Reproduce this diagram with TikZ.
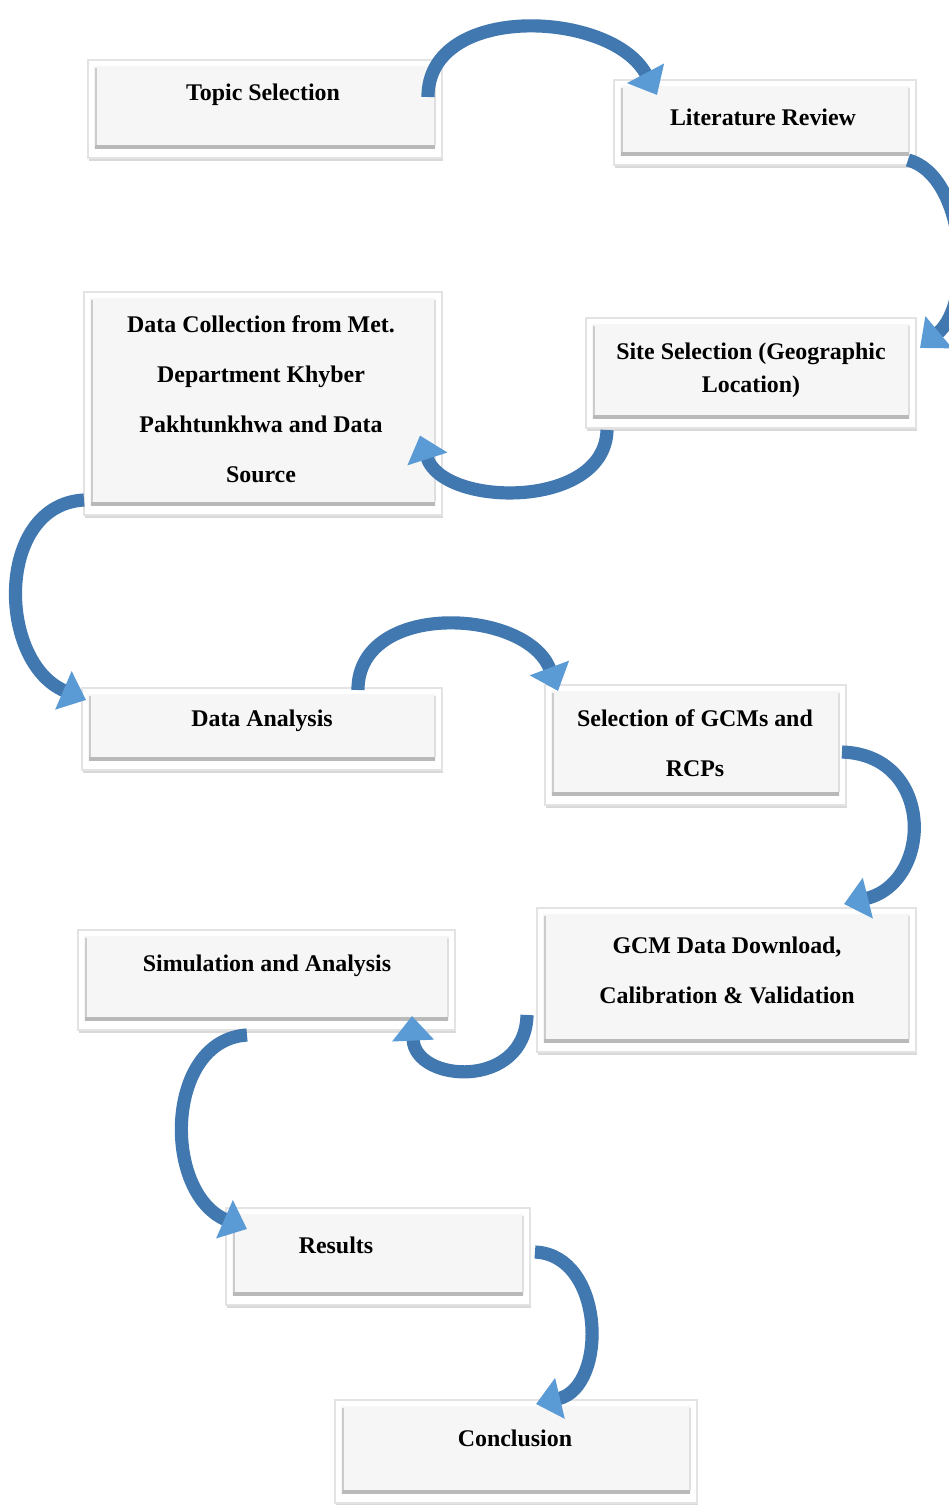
\documentclass[tikz,border=0pt]{standalone}
\usepackage{fontspec}
\setmainfont{Liberation Serif}
\usepackage{xcolor}
\usepackage{tikz}
\usetikzlibrary{positioning, calc, arrows.meta, shadows}

\definecolor{flowblue}{RGB}{66,120,176}
\definecolor{flowlight}{RGB}{91,155,213}

\tikzset{
    stepbox/.style={rectangle, draw=gray!22, line width=0.8pt, fill=white, inner sep=0pt, outer sep=0pt,
        drop shadow={opacity=0.3, shadow xshift=0.8pt, shadow yshift=-1.5pt},
        path picture={
            \fill[gray!7] ($(path picture bounding box.north west)+(6,6)$) rectangle ($(path picture bounding box.south east)+(-6,-9)$);
            \fill[gray!55] ($(path picture bounding box.south west)+(7,-13)$) rectangle ($(path picture bounding box.south east)+(-7,-9)$);
            \draw[gray!40, line width=1.2pt] ($(path picture bounding box.north west)+(8,8)$) -- ($(path picture bounding box.south west)+(8,-13)$);
            \draw[gray!25, line width=1pt] ($(path picture bounding box.north east)+(-7,8)$) -- ($(path picture bounding box.south east)+(-7,-13)$);
        }},
    steptext/.style={font=\fontsize{13.6}{28.4}\selectfont\bfseries, align=center, inner sep=0pt},
    flowarrow/.style={draw=flowblue, line width=7.5pt, -{Triangle[width=23pt, length=14pt, color=flowlight]}}
}

\begin{document}
\begin{tikzpicture}[x=0.02cm, y=-0.02cm]

    \useasboundingbox (0,0) rectangle (949,1505);

    % ==========================================
    % BOXES (left/right zigzag)
    % ==========================================
    \node[stepbox, minimum width=7.08cm, minimum height=1.96cm] (topic)    at (265,109)    {};
    \node[stepbox, minimum width=6.04cm, minimum height=1.70cm] (litrev)   at (765,122.5)  {};
    \node[stepbox, minimum width=6.60cm, minimum height=2.20cm] (site)     at (751,373)    {};
    \node[stepbox, minimum width=7.16cm, minimum height=4.46cm] (datacol)  at (263,403.5)  {};
    \node[stepbox, minimum width=7.20cm, minimum height=1.64cm] (analysis) at (262,729)    {};
    \node[stepbox, minimum width=6.02cm, minimum height=2.40cm] (gcmsel)   at (695.5,745)  {};
    \node[stepbox, minimum width=7.58cm, minimum height=2.88cm] (gcmdl)    at (726.5,980)  {};
    \node[stepbox, minimum width=7.54cm, minimum height=2.00cm] (simul)    at (266.5,980)  {};
    \node[stepbox, minimum width=6.08cm, minimum height=1.94cm] (results)  at (378,1256.5) {};
    \node[stepbox, minimum width=7.24cm, minimum height=2.06cm] (concl)    at (516,1451.5) {};

    % Box texts (sit near the top of each box)
    \node[steptext] (topic-t)    at (263,95)   {Topic Selection};
    \node[steptext] (litrev-t)   at (763,117)  {Literature Review};
    \node[steptext, font=\fontsize{13.6}{18.7}\selectfont\bfseries] (site-t) at (751,370) {Site Selection (Geographic\\Location)};
    \node[steptext] (datacol-t)  at (261,399)  {Data Collection from Met.\\Department Khyber\\Pakhtunkhwa and Data\\Source};
    \node[steptext] (analysis-t) at (262,721)  {Data Analysis};
    \node[steptext] (gcmsel-t)   at (695,743)  {Selection of GCMs and\\RCPs};
    \node[steptext] (gcmdl-t)    at (727,970)  {GCM Data Download,\\Calibration \& Validation};
    \node[steptext] (simul-t)    at (267,966)  {Simulation and Analysis};
    \node[steptext] (results-t)  at (336,1245) {Results};
    \node[steptext] (concl-t)    at (515,1438) {Conclusion};

    % ==========================================
    % CURVED ARROWS
    % ==========================================
    \draw[flowarrow] ($(topic.north east)+(-14,37)$) .. controls +(0,-95) and +(-45,-85) .. ($(litrev.north west)+(43,15)$);
    \draw[flowarrow] ($(litrev.south east)+(-8,-5)$) .. controls +(57,15) and +(55,-46) .. ($(site.north east)+(4,30)$);
    \draw[flowarrow] ($(site.south west)+(21,2)$) .. controls +(-2,80) and +(23,72) .. ($(datacol.east)+(-22,32)$);
    \draw[flowarrow] ($(datacol.south west)+(0,-15)$) .. controls +(-89,5) and +(-89,-38) .. ($(analysis.north west)+(4,12)$);
    \draw[flowarrow] ($(analysis.north east)+(-84,2)$) .. controls +(0,-90) and +(-31,-83) .. ($(gcmsel.north west)+(13,6)$);
    \draw[flowarrow] ($(gcmsel.east)+(-4,7)$) .. controls +(93,3) and +(89,-22) .. ($(gcmdl.north east)+(-72,-4)$);
    \draw[flowarrow] ($(gcmdl.south west)+(-10,-37)$) .. controls +(-2,75) and +(3,67) .. ($(simul.south east)+(-43,-14)$);
    \draw[flowarrow] ($(simul.south)+(-19.5,5)$) .. controls +(-82,5) and +(-85,-37) .. ($(results.north west)+(21,21)$);
    \draw[flowarrow] ($(results.east)+(5,-4.5)$) .. controls +(70,3) and +(72,-17) .. ($(concl.north)+(20,4)$);

\end{tikzpicture}
\end{document}
